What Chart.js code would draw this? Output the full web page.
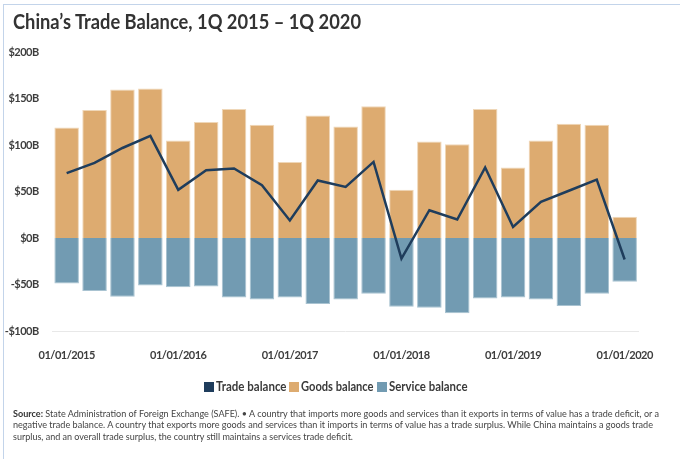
<!DOCTYPE html>
<html>
<head>
<meta charset="utf-8">
<script src="https://cdn.jsdelivr.net/npm/chart.js@4.4.1/dist/chart.umd.min.js"></script>
<style>
  html, body { margin: 0; padding: 0; background: #fff; }
  body { width: 680px; height: 459px; position: relative; overflow: hidden; font-family: Lato, "Noto Sans", sans-serif; }
  #frame { position: absolute; left: 3px; top: 4px; width: 700px; height: 470px; border-left: 1px solid #c3d4ea; border-top: 1px solid #c3d4ea; }
  #chart { position: absolute; left: 0; top: 0; }
  .fit { position: absolute; white-space: nowrap; transform-origin: 0 50%; display: inline-block; }
  #title { left: 13px; top: 8px; font-size: 21px; font-weight: 700; color: #333; line-height: 26px; }
  .lg { position: absolute; top: 380px; height: 14px; }
  .lg .box { position: absolute; left: 0; top: 2px; width: 10px; height: 10px; }
  .lg .txt { left: 12px; top: 0; font-size: 12.5px; font-weight: 700; color: #3a3a3a; line-height: 14px; }
  .src { left: 13px; font-size: 10.3px; color: #444; line-height: 11px; }
  .src b { color: #333; }
</style>
</head>
<body>
<div id="frame"></div>
<canvas id="chart" width="680" height="459"></canvas>
<div id="title" class="fit" data-w="348">China’s Trade Balance, 1Q 2015 – 1Q 2020</div>

<div class="lg" style="left:204px"><div class="box" style="background:#1f3d5c"></div><div class="txt fit" data-w="70.5">Trade balance</div></div>
<div class="lg" style="left:289px"><div class="box" style="background:#ddab70"></div><div class="txt fit" data-w="72.5">Goods balance</div></div>
<div class="lg" style="left:377px"><div class="box" style="background:#729bb2"></div><div class="txt fit" data-w="78.5">Service balance</div></div>

<div class="src fit" style="top:407.5px" data-w="646"><b>Source:</b> State Administration of Foreign Exchange (SAFE). • A country that imports more goods and services than it exports in terms of value has a trade deficit, or a</div>
<div class="src fit" style="top:419px" data-w="640">negative trade balance. A country that exports more goods and services than it imports in terms of value has a trade surplus. While China maintains a goods trade</div>
<div class="src fit" style="top:430.5px" data-w="340">surplus, and an overall trade surplus, the country still maintains a services trade deficit.</div>

<script>
// ---- data (billions USD) ----
const quarters = [
  '01/01/2015','04/01/2015','07/01/2015','10/01/2015',
  '01/01/2016','04/01/2016','07/01/2016','10/01/2016',
  '01/01/2017','04/01/2017','07/01/2017','10/01/2017',
  '01/01/2018','04/01/2018','07/01/2018','10/01/2018',
  '01/01/2019','04/01/2019','07/01/2019','10/01/2019',
  '01/01/2020'
];
const goodsBalance   = [119, 138, 160, 161, 105, 125, 139, 122, 82, 132, 120, 142, 52, 104, 101, 139, 76, 105, 123, 122, 23];
const serviceBalance = [-49, -57, -63, -51, -53, -52, -64, -66, -64, -71, -66, -60, -74, -75, -81, -65, -64, -66, -73, -60, -47];
const tradeBalance   = [70, 81, 97, 110, 52, 73, 75, 57, 19, 62, 55, 82, -22, 30, 20, 76, 12, 39, 51, 63, -23];
const yTicks = [-100, -50, 0, 50, 100, 150, 200];

function fitText() {
  document.querySelectorAll('.fit').forEach(el => {
    el.style.transform = 'none';
    const w = el.getBoundingClientRect().width;
    const t = parseFloat(el.dataset.w);
    if (w > 0) el.style.transform = 'scaleX(' + (t / w) + ')';
  });
}
fitText();
if (document.fonts && document.fonts.ready) document.fonts.ready.then(fitText);

const tickFont = { family: 'Lato', size: 11, weight: 'bold' };

const tightText = {
  id: 'tightText',
  beforeDraw(chart) { chart.ctx.letterSpacing = '-0.5px'; }
};

new Chart(document.getElementById('chart'), {
  plugins: [tightText],
  data: {
    labels: quarters,
    datasets: [
      { type: 'line', label: 'Trade balance', data: tradeBalance, borderColor: '#1f3d5c', borderWidth: 2.5,
        pointRadius: 0, tension: 0, fill: false, order: 0, stack: 'line' },
      { type: 'bar', label: 'Goods balance', data: goodsBalance, backgroundColor: '#ddab70',
        borderColor: '#efd7b8', borderWidth: 1, order: 1, stack: 'bars' },
      { type: 'bar', label: 'Service balance', data: serviceBalance, backgroundColor: '#729bb2',
        borderColor: '#a9c3d1', borderWidth: 1, order: 1, stack: 'bars' }
    ]
  },
  options: {
    responsive: false,
    animation: false,
    devicePixelRatio: 1,
    layout: { padding: { left: 0, right: 41.4, top: 52.3, bottom: 88 } },
    datasets: { bar: { categoryPercentage: 1, barPercentage: 0.88 } },
    plugins: { legend: { display: false }, title: { display: false }, tooltip: { enabled: false } },
    scales: {
      x: {
        stacked: true,
        offset: true,
        grid: { display: false },
        border: { display: true, color: '#e8e8e8', width: 1 },
        ticks: {
          autoSkip: false, maxRotation: 0, padding: 10, color: '#3d3d3d', font: tickFont,
          callback: function (v, i) { return i % 4 === 0 ? this.getLabelForValue(v) : ''; }
        },
        afterFit: s => { s.height = 40; }
      },
      y: {
        stacked: true,
        min: -100, max: 200,
        grid: { display: false },
        border: { display: false },
        afterBuildTicks: s => { s.ticks = yTicks.map(v => ({ value: v })); },
        ticks: {
          padding: 6, color: '#3d3d3d', font: tickFont,
          callback: v => (v < 0 ? '-' : '') + '$' + Math.abs(v) + 'B'
        },
        afterFit: s => { s.width = 52.7; }
      }
    }
  }
});
</script>
</body>
</html>
